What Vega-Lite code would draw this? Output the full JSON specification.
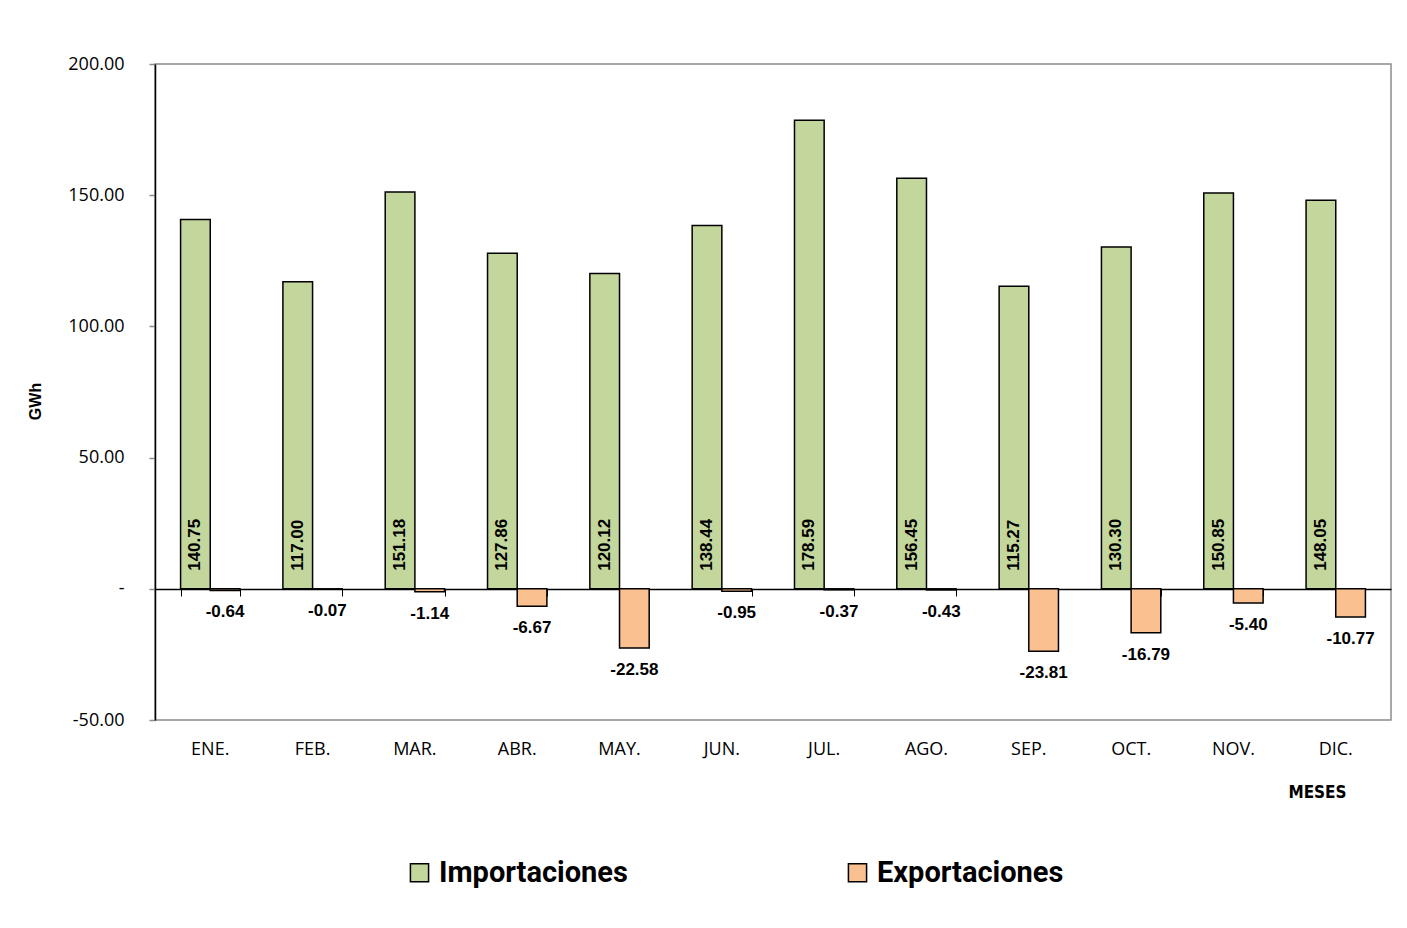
{
  "$schema": "https://vega.github.io/schema/vega-lite/v6.json",
  "width": 1236,
  "height": 656,
  "autosize": {"type": "none"},
  "padding": {"left": 155, "top": 64, "right": 16, "bottom": 208},
  "background": "white",
  "config": {
    "view": {"stroke": "#8c8c8c", "strokeWidth": 1.5},
    "font": "Open Sans",
    "locale": {"number": {"decimal": ".", "thousands": ",", "grouping": [3], "currency": ["$", ""], "minus": "-"}}
  },
  "data": {
    "values": [
      {"mes": "ENE.", "serie": "Importaciones", "valor": 140.75},
      {"mes": "FEB.", "serie": "Importaciones", "valor": 117.00},
      {"mes": "MAR.", "serie": "Importaciones", "valor": 151.18},
      {"mes": "ABR.", "serie": "Importaciones", "valor": 127.86},
      {"mes": "MAY.", "serie": "Importaciones", "valor": 120.12},
      {"mes": "JUN.", "serie": "Importaciones", "valor": 138.44},
      {"mes": "JUL.", "serie": "Importaciones", "valor": 178.59},
      {"mes": "AGO.", "serie": "Importaciones", "valor": 156.45},
      {"mes": "SEP.", "serie": "Importaciones", "valor": 115.27},
      {"mes": "OCT.", "serie": "Importaciones", "valor": 130.30},
      {"mes": "NOV.", "serie": "Importaciones", "valor": 150.85},
      {"mes": "DIC.", "serie": "Importaciones", "valor": 148.05},
      {"mes": "ENE.", "serie": "Exportaciones", "valor": -0.64},
      {"mes": "FEB.", "serie": "Exportaciones", "valor": -0.07},
      {"mes": "MAR.", "serie": "Exportaciones", "valor": -1.14},
      {"mes": "ABR.", "serie": "Exportaciones", "valor": -6.67},
      {"mes": "MAY.", "serie": "Exportaciones", "valor": -22.58},
      {"mes": "JUN.", "serie": "Exportaciones", "valor": -0.95},
      {"mes": "JUL.", "serie": "Exportaciones", "valor": -0.37},
      {"mes": "AGO.", "serie": "Exportaciones", "valor": -0.43},
      {"mes": "SEP.", "serie": "Exportaciones", "valor": -23.81},
      {"mes": "OCT.", "serie": "Exportaciones", "valor": -16.79},
      {"mes": "NOV.", "serie": "Exportaciones", "valor": -5.40},
      {"mes": "DIC.", "serie": "Exportaciones", "valor": -10.77}
    ]
  },
  "encoding": {
    "x": {
      "field": "mes",
      "type": "nominal",
      "sort": null,
      "scale": {"paddingInner": 0.42, "paddingOuter": 0.25}
    },
    "xOffset": {
      "field": "serie",
      "type": "nominal",
      "sort": ["Importaciones", "Exportaciones"],
      "scale": {"paddingInner": 0, "paddingOuter": 0}
    },
    "y": {
      "field": "valor",
      "type": "quantitative",
      "scale": {"domain": [-50, 200], "nice": false, "zero": true}
    }
  },
  "layer": [
    {
      "mark": {"type": "bar", "stroke": "black", "strokeWidth": 1.5},
      "encoding": {
        "x": {
          "field": "mes",
          "type": "nominal",
          "sort": null,
          "scale": {"paddingInner": 0.42, "paddingOuter": 0.25},
          "axis": {
            "orient": "bottom",
            "domain": false,
            "ticks": false,
            "labelAngle": 0,
            "labelFont": "Open Sans",
            "labelFontSize": 18,
            "labelColor": "black",
            "labelPadding": 20,
            "title": "MESES",
            "titleFont": "DejaVu Sans Condensed, Liberation Sans",
            "titleFontSize": 17,
            "titleFontWeight": "bold",
            "titleColor": "black",
            "titleX": 1162,
            "titleY": 72,
            "titleAnchor": "middle",
            "titleAlign": "center",
            "titleBaseline": "middle"
          }
        },
        "y": {
          "field": "valor",
          "type": "quantitative",
          "scale": {"domain": [-50, 200], "nice": false, "zero": true},
          "axis": {
            "values": [-50, 0, 50, 100, 150, 200],
            "labelExpr": "datum.value == 0 ? '-' : format(datum.value, '.2f')",
            "grid": false,
            "domain": true,
            "domainColor": "black",
            "domainWidth": 1.5,
            "ticks": true,
            "tickColor": "#8c8c8c",
            "tickSize": 6,
            "tickWidth": 1.5,
            "labelFont": "Open Sans",
            "labelFontSize": 18,
            "labelColor": "black",
            "labelPadding": 25,
            "title": "GWh",
            "titleFont": "Liberation Sans",
            "titleFontSize": 16,
            "titleFontWeight": "bold",
            "titleColor": "black",
            "titleAngle": 270,
            "titleX": -120,
            "titleY": 337,
            "titleAlign": "center",
            "titleBaseline": "middle"
          }
        },
        "color": {
          "field": "serie",
          "type": "nominal",
          "scale": {
            "domain": ["Importaciones", "Exportaciones"],
            "range": ["#C3D69B", "#FAC090"]
          },
          "legend": {
            "orient": "none",
            "direction": "horizontal",
            "legendX": 250,
            "legendY": 794,
            "title": null,
            "symbolType": "square",
            "symbolSize": 330,
            "symbolStrokeColor": "black",
            "symbolStrokeWidth": 1.5,
            "symbolOpacity": 1,
            "labelFont": "Roboto",
            "labelFontSize": 29,
            "labelFontWeight": "bold",
            "labelColor": "black",
            "labelOffset": 5,
            "labelLimit": 400,
            "columnPadding": 215,
            "padding": 0
          }
        }
      }
    },
    {
      "mark": {"type": "rule", "opacity": 0},
      "encoding": {
        "x": {
          "field": "mes",
          "type": "nominal",
          "sort": null,
          "axis": {
            "orient": "bottom",
            "offset": -131,
            "domain": true,
            "domainColor": "black",
            "domainWidth": 1.5,
            "ticks": true,
            "tickBand": "extent",
            "tickColor": "black",
            "tickSize": 7,
            "tickWidth": 1,
            "labels": false,
            "title": null
          }
        },
        "y": {"datum": 0}
      }
    },
    {
      "transform": [{"filter": "datum.serie == 'Importaciones'"}],
      "mark": {
        "type": "text",
        "angle": 270,
        "align": "left",
        "baseline": "middle",
        "dx": 18,
        "font": "Liberation Sans",
        "fontSize": 17,
        "fontWeight": "bold",
        "color": "black"
      },
      "encoding": {
        "x": {"field": "mes", "type": "nominal", "sort": null, "axis": null},
        "y": {"datum": 0},
        "text": {"field": "valor", "type": "quantitative", "format": ".2f"}
      }
    },
    {
      "transform": [{"filter": "datum.serie == 'Exportaciones'"}],
      "mark": {
        "type": "text",
        "align": "center",
        "baseline": "top",
        "dy": 14,
        "font": "Liberation Sans",
        "fontSize": 17,
        "fontWeight": "bold",
        "color": "black"
      },
      "encoding": {
        "x": {"field": "mes", "type": "nominal", "sort": null, "axis": null},
        "y": {"field": "valor", "type": "quantitative"},
        "text": {"field": "valor", "type": "quantitative", "format": ".2f"}
      }
    }
  ],
  "resolve": {"scale": {"x": "shared", "y": "shared"}, "axis": {"x": "independent"}}
}
